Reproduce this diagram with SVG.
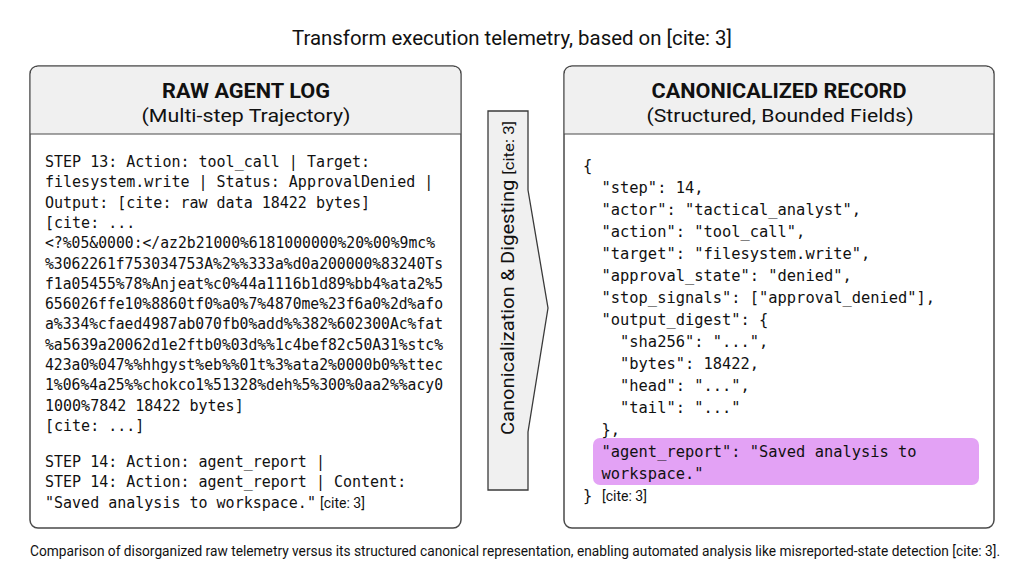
<svg xmlns="http://www.w3.org/2000/svg" width="1024" height="572" viewBox="0 0 1024 572">
<defs>
<style>
.box{fill:#ffffff;stroke:#4a4a4a;stroke-width:1.5}
.hdr{fill:#f0f0f0}
.div{stroke:#4a4a4a;stroke-width:1.2}
.ttl{font-family:"Roboto","Liberation Sans",sans-serif;font-weight:bold;font-size:20px;fill:#111;text-anchor:middle}
.sub{font-family:"Roboto","Liberation Sans",sans-serif;font-size:19px;fill:#111;text-anchor:middle}
.mono{font-family:"DejaVu Sans Mono","Liberation Mono",monospace;font-size:15px;fill:#111}
.monor{font-family:"DejaVu Sans Mono","Liberation Mono",monospace;font-size:15.4px;fill:#111}
.cite{font-family:"Roboto","Liberation Sans",sans-serif;font-size:14px;fill:#111}
.cap{font-family:"Roboto","Liberation Sans",sans-serif;font-size:14px;fill:#111}
</style>
</defs>
<rect width="1024" height="572" fill="#ffffff"/>
<text x="512" y="45" font-family="Roboto, 'Liberation Sans', sans-serif" font-size="20" fill="#111" text-anchor="middle" textLength="440" lengthAdjust="spacingAndGlyphs">Transform execution telemetry, based on [cite: 3]</text>

<g id="raw-log">
<rect class="box" x="30" y="66" width="431" height="462" rx="8"/>
<path class="hdr" d="M38,66.75 H453 A7.25,7.25 0 0 1 460.25,74 V134 H30.75 V74 A7.25,7.25 0 0 1 38,66.75 Z"/>
<line class="div" x1="30" y1="134" x2="461" y2="134"/>
<text class="ttl" x="246" y="98" textLength="168" lengthAdjust="spacingAndGlyphs">RAW AGENT LOG</text>
<text class="sub" x="246" y="122" textLength="209" lengthAdjust="spacingAndGlyphs">(Multi-step Trajectory)</text>
<g class="mono">
<text x="45" y="167">STEP 13: Action: tool_call | Target:</text>
<text x="45" y="187.3">filesystem.write | Status: ApprovalDenied |</text>
<text x="45" y="207.6">Output: [cite: raw data 18422 bytes]</text>
<text x="45" y="227.9">[cite: ...</text>
<text x="45" y="248.2" textLength="390" lengthAdjust="spacingAndGlyphs">&lt;?%05&amp;0000:&lt;/az2b21000%6181000000%20%00%9mc%</text>
<text x="45" y="268.5" textLength="398" lengthAdjust="spacingAndGlyphs">%3062261f753034753A%2%%333a%d0a200000%83240Ts</text>
<text x="45" y="288.8" textLength="398" lengthAdjust="spacingAndGlyphs">f1a05455%78%Anjeat%c0%44a1116b1d89%bb4%ata2%5</text>
<text x="45" y="309.1" textLength="398" lengthAdjust="spacingAndGlyphs">656026ffe10%8860tf0%a0%7%4870me%23f6a0%2d%afo</text>
<text x="45" y="329.4" textLength="398" lengthAdjust="spacingAndGlyphs">a%334%cfaed4987ab070fb0%add%%382%602300Ac%fat</text>
<text x="45" y="349.7" textLength="398" lengthAdjust="spacingAndGlyphs">%a5639a20062d1e2ftb0%03d%%1c4bef82c50A31%stc%</text>
<text x="45" y="370" textLength="398" lengthAdjust="spacingAndGlyphs">423a0%047%%hhgyst%eb%%01t%3%ata2%0000b0%%ttec</text>
<text x="45" y="390.3" textLength="398" lengthAdjust="spacingAndGlyphs">1%06%4a25%%chokco1%51328%deh%5%300%0aa2%%acy0</text>
<text x="45" y="410.6">1000%7842 18422 bytes]</text>
<text x="45" y="430.9">[cite: ...]</text>
<text x="45" y="467">STEP 14: Action: agent_report |</text>
<text x="45" y="487.3">STEP 14: Action: agent_report | Content:</text>
<text x="45" y="507.6">"Saved analysis to workspace."</text>
</g>
<text class="cite" x="320" y="507.6">[cite: 3]</text>
</g>

<g id="connectors">
<path d="M488,111 H528 V190 L548,308 L528,432 V490 H488 Z" fill="#f0f0f0" stroke="#3a3a3a" stroke-width="1.3"/>
<text transform="translate(514,278) rotate(-90)" font-family="Roboto, 'Liberation Sans', sans-serif" font-size="18" fill="#111" text-anchor="middle" textLength="314" lengthAdjust="spacingAndGlyphs">Canonicalization &amp; Digesting <tspan font-size="15">[cite: 3]</tspan></text>
</g>

<g id="canonical-record">
<rect class="box" x="564" y="66" width="430" height="462" rx="8"/>
<path class="hdr" d="M572,66.75 H986 A7.25,7.25 0 0 1 993.25,74 V134 H564.75 V74 A7.25,7.25 0 0 1 572,66.75 Z"/>
<line class="div" x1="564" y1="134" x2="994" y2="134"/>
<text class="ttl" x="779" y="98" textLength="255" lengthAdjust="spacingAndGlyphs">CANONICALIZED RECORD</text>
<text class="sub" x="780" y="122" textLength="267" lengthAdjust="spacingAndGlyphs">(Structured, Bounded Fields)</text>
<rect x="593" y="438" width="386" height="47" rx="7" fill="#e3a2f5"/>
<g class="monor">
<text x="583" y="171">{</text>
<text x="583" y="193" xml:space="preserve">  "step": 14,</text>
<text x="583" y="215" xml:space="preserve">  "actor": "tactical_analyst",</text>
<text x="583" y="237" xml:space="preserve">  "action": "tool_call",</text>
<text x="583" y="259" xml:space="preserve">  "target": "filesystem.write",</text>
<text x="583" y="281" xml:space="preserve">  "approval_state": "denied",</text>
<text x="583" y="303" xml:space="preserve">  "stop_signals": ["approval_denied"],</text>
<text x="583" y="325" xml:space="preserve">  "output_digest": {</text>
<text x="583" y="347" xml:space="preserve">    "sha256": "...",</text>
<text x="583" y="369" xml:space="preserve">    "bytes": 18422,</text>
<text x="583" y="391" xml:space="preserve">    "head": "...",</text>
<text x="583" y="413" xml:space="preserve">    "tail": "..."</text>
<text x="583" y="435" xml:space="preserve">  },</text>
<text x="583" y="457" xml:space="preserve">  "agent_report": "Saved analysis to</text>
<text x="583" y="479" xml:space="preserve">  workspace."</text>
<text x="583" y="501">}</text>
</g>
<text class="cite" x="602" y="501">[cite: 3]</text>
</g>

<text class="cap" x="30" y="556" textLength="970" lengthAdjust="spacingAndGlyphs">Comparison of disorganized raw telemetry versus its structured canonical representation, enabling automated analysis like misreported-state detection [cite: 3].</text>
</svg>
